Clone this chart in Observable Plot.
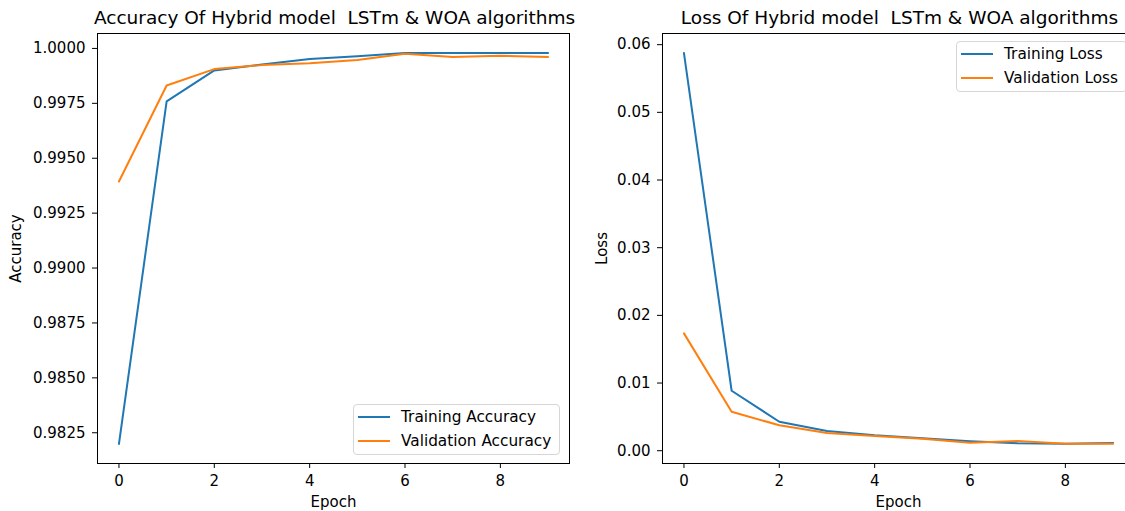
<!DOCTYPE html>
<html>
<head>
<meta charset="utf-8">
<script src="https://cdn.jsdelivr.net/npm/d3@7"></script>
<script src="https://cdn.jsdelivr.net/npm/@observablehq/plot@0.6"></script>
<style>
html, body { margin: 0; padding: 0; background: #fff; overflow: hidden; }
#root { position: relative; width: 1125px; height: 511px; overflow: hidden; font-family: "DejaVu Sans", sans-serif; color: #000; }
.panel { position: absolute; top: 0; }
.title { position: absolute; white-space: pre; font-size: 18.5px; line-height: 18px; color: #000; transform: translateX(-50%); top: 9px; }
.legend { position: absolute; background: rgba(255,255,255,0.8); border: 1px solid #d6d6d6; border-radius: 4px; font-size: 15.3px; line-height: 24px; padding: 0 8px 1px 47px; white-space: pre; }
.legend .row { position: relative; height: 24px; }
.legend .sw { position: absolute; left: -43px; width: 32px; top: 11px; height: 2px; }
</style>
</head>
<body>
<div id="root"></div>
<script>
// ---- data ----
const epochs = [0, 1, 2, 3, 4, 5, 6, 7, 8, 9];
const trainAcc = [0.98199, 0.99759, 0.99900, 0.99927, 0.99952, 0.99964, 0.99979, 0.99979, 0.99979, 0.99979];
const valAcc   = [0.99394, 0.99831, 0.99906, 0.99924, 0.99933, 0.99947, 0.99976, 0.99961, 0.99967, 0.99961];
const trainLoss = [0.05876, 0.00886, 0.00428, 0.00291, 0.00227, 0.00183, 0.00139, 0.00109, 0.00103, 0.00114];
const valLoss   = [0.01734, 0.00576, 0.00375, 0.00261, 0.00217, 0.00177, 0.00118, 0.00143, 0.00103, 0.00103];
const xTicks = [0, 2, 4, 6, 8];
const accTicks = [0.9825, 0.9850, 0.9875, 0.9900, 0.9925, 0.9950, 0.9975, 1.0000];
const lossTicks = [0.00, 0.01, 0.02, 0.03, 0.04, 0.05, 0.06];
const accSeries = ["Training Accuracy", "Validation Accuracy"];
const lossSeries = ["Training Loss", "Validation Loss"];
const accTitle = "Accuracy Of Hybrid model  LSTm & WOA algorithms";
const lossTitle = "Loss Of Hybrid model  LSTm & WOA algorithms";
const colors = ["#1f77b4", "#ff7f0e"];

const root = document.getElementById("root");

function rowsOf(names, a, b) {
  return [
    ...epochs.map((e, i) => ({epoch: e, value: a[i], series: names[0]})),
    ...epochs.map((e, i) => ({epoch: e, value: b[i], series: names[1]}))
  ];
}

function panel({left, width, marginLeft, marginRight, yDomain, yTicks, yFormat, yLabel, yLabelOffset, names, a, b}) {
  const chart = Plot.plot({
    width, height: 511,
    marginLeft, marginRight, marginTop: 33, marginBottom: 48,
    style: {fontFamily: "DejaVu Sans, sans-serif", fontSize: "15px", color: "#000", background: "transparent"},
    x: {domain: [-0.45, 9.45]},
    y: {domain: yDomain},
    color: {domain: names, range: colors},
    marks: [
      Plot.line(rowsOf(names, a, b), {x: "epoch", y: "value", stroke: "series", strokeWidth: 2}),
      Plot.frame({stroke: "#000", strokeWidth: 1}),
      Plot.axisX({ticks: xTicks, tickSize: 5, tickPadding: 7, tickFormat: d3.format("d"),
        label: "Epoch", labelAnchor: "center", labelOffset: 43, labelArrow: false}),
      Plot.axisY({ticks: yTicks, tickSize: 5, tickPadding: 7, tickFormat: d3.format(yFormat),
        label: yLabel, labelAnchor: "center", labelOffset: yLabelOffset, labelArrow: false})
    ]
  });
  const wrap = document.createElement("div");
  wrap.className = "panel";
  wrap.style.left = left + "px";
  wrap.style.width = width + "px";
  wrap.appendChild(chart);
  root.appendChild(wrap);
}

panel({left: 0, width: 575, marginLeft: 97, marginRight: 6,
  yDomain: [0.98110, 1.00068], yTicks: accTicks, yFormat: ".4f", yLabel: "Accuracy", yLabelOffset: 87,
  names: accSeries, a: trainAcc, b: valAcc});
panel({left: 580, width: 560, marginLeft: 82, marginRight: 6,
  yDomain: [-0.00189, 0.06165], yTicks: lossTicks, yFormat: ".2f", yLabel: "Loss", yLabelOffset: 66,
  names: lossSeries, a: trainLoss, b: valLoss});

function addTitle(text, cx) {
  const t = document.createElement("div");
  t.className = "title";
  t.textContent = text;
  t.style.left = cx + "px";
  root.appendChild(t);
}
addTitle(accTitle, 334.5);
addTitle(lossTitle, 899.5);

function addLegend(names, left, top) {
  const lg = document.createElement("div");
  lg.className = "legend";
  lg.style.left = left + "px";
  lg.style.top = top + "px";
  names.forEach((n, i) => {
    const r = document.createElement("div");
    r.className = "row";
    const sw = document.createElement("div");
    sw.className = "sw";
    sw.style.background = colors[i];
    r.appendChild(sw);
    r.appendChild(document.createTextNode(n));
    lg.appendChild(r);
  });
  root.appendChild(lg);
}
addLegend(accSeries, 353, 404);
addLegend(lossSeries, 956, 41);
</script>
</body>
</html>
